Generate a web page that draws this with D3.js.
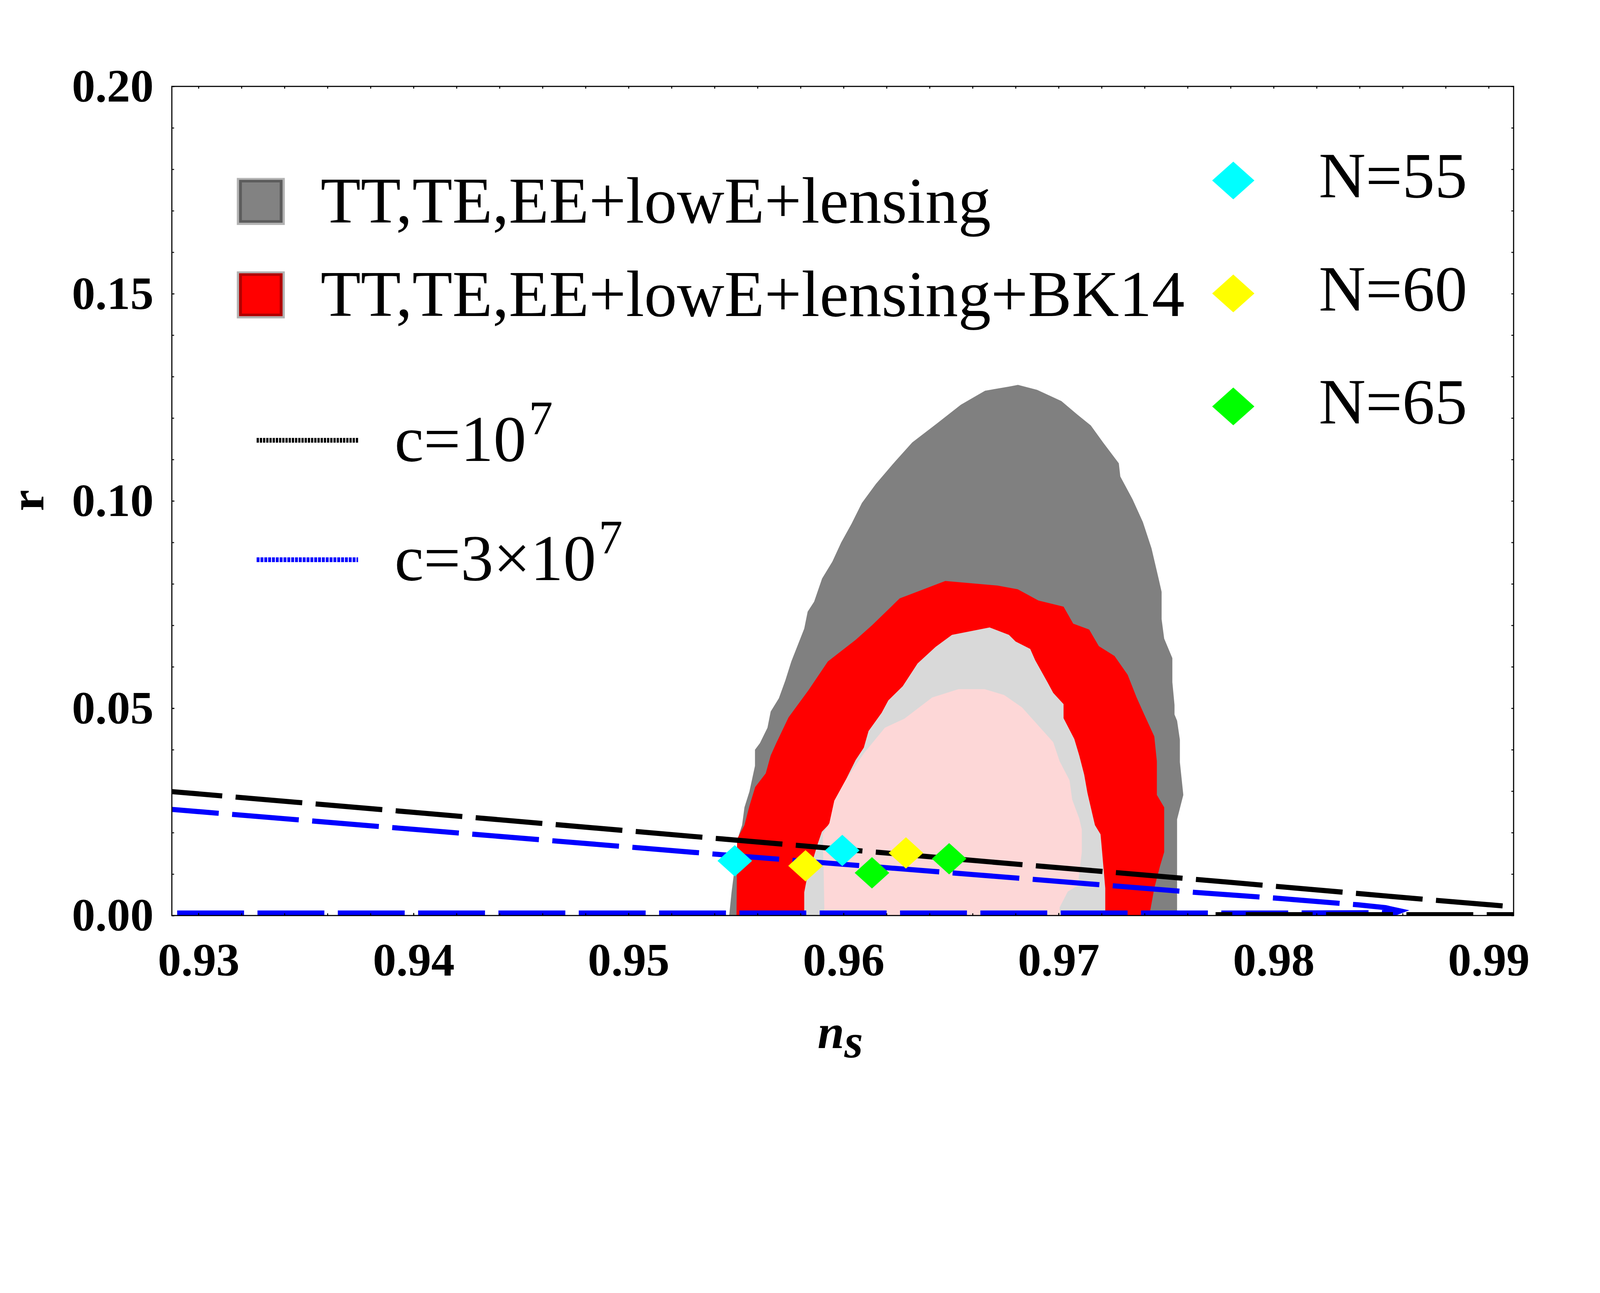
<!DOCTYPE html>
<html>
<head>
<meta charset="utf-8">
<script src="https://cdn.jsdelivr.net/npm/d3@7/dist/d3.min.js"></script>
<style>
  html, body { margin: 0; padding: 0; background: #fff; overflow: hidden; }
  svg { display: block; width: 100vw; height: 100vh; }
  text { font-family: "Liberation Serif", "Times New Roman", serif; }
</style>
</head>
<body>
<svg id="chart"></svg>
<script>
const width = 5000;
const height = 3310;
const margin = { left: 537, right: 270, top: 270, bottom: 449 };

// axis ranges and tick labels
const nsRange = [0.92876, 0.99116];
const rRange = [0, 0.2];
const xTicks = [0.93, 0.94, 0.95, 0.96, 0.97, 0.98, 0.99];
const yTicks = [0, 0.05, 0.10, 0.15, 0.20];

// contours [ns, r]
const planck95 = [[0.95468,0],[0.95479,0.0056],[0.95513,0.0194],[0.95528,0.0218],[0.95539,0.0261],[0.95562,0.0299],[0.95588,0.0361],[0.95588,0.0400],[0.95611,0.0416],[0.95646,0.0453],[0.95661,0.0492],[0.95699,0.0524],[0.95729,0.0567],[0.95757,0.0613],[0.95817,0.0692],[0.95833,0.0733],[0.95863,0.0757],[0.95900,0.0813],[0.95948,0.0854],[0.95989,0.0900],[0.96037,0.0945],[0.96085,0.0995],[0.96150,0.1041],[0.96239,0.1095],[0.96319,0.1141],[0.96432,0.1186],[0.96545,0.1232],[0.96658,0.1266],[0.96771,0.1276],[0.96811,0.1280],[0.96900,0.1268],[0.97013,0.1241],[0.97086,0.1209],[0.97150,0.1182],[0.97207,0.1141],[0.97280,0.1091],[0.97287,0.1059],[0.97344,0.1004],[0.97392,0.0949],[0.97432,0.0886],[0.97465,0.0813],[0.97479,0.0781],[0.97479,0.0715],[0.97491,0.0668],[0.97529,0.0621],[0.97529,0.0563],[0.97539,0.0508],[0.97539,0.0485],[0.97551,0.0470],[0.97564,0.0424],[0.97564,0.0370],[0.97580,0.0291],[0.97551,0.0232],[0.97551,0]];
const bk95 = [[0.95502,0],[0.95505,0.0185],[0.95539,0.0218],[0.95562,0.0264],[0.95589,0.0310],[0.95638,0.0343],[0.95661,0.0386],[0.95687,0.0416],[0.95744,0.0478],[0.95836,0.0543],[0.95927,0.0613],[0.96056,0.0665],[0.96132,0.0700],[0.96261,0.0765],[0.96473,0.0807],[0.96716,0.0796],[0.96810,0.0787],[0.96906,0.0760],[0.97023,0.0745],[0.97068,0.0704],[0.97142,0.0690],[0.97187,0.0650],[0.97260,0.0626],[0.97321,0.0581],[0.97362,0.0527],[0.97392,0.0492],[0.97445,0.0432],[0.97457,0.0372],[0.97457,0.0291],[0.97491,0.0261],[0.97491,0.0153],[0.97472,0.0120],[0.97445,0.0066],[0.97422,0]];
const planck68 = [[0.95817,0],[0.95817,0.0056],[0.95827,0.0083],[0.95881,0.0175],[0.95899,0.0202],[0.95934,0.0221],[0.95957,0.0277],[0.96010,0.0327],[0.96056,0.0375],[0.96094,0.0405],[0.96116,0.0445],[0.96177,0.0489],[0.96208,0.0519],[0.96275,0.0553],[0.96344,0.0608],[0.96428,0.0648],[0.96504,0.0677],[0.96679,0.0695],[0.96769,0.0677],[0.96800,0.0661],[0.96868,0.0643],[0.96891,0.0616],[0.96949,0.0562],[0.96975,0.0537],[0.97023,0.0510],[0.97023,0.0476],[0.97073,0.0426],[0.97096,0.0386],[0.97119,0.0340],[0.97134,0.0296],[0.97169,0.0218],[0.97195,0.0196],[0.97202,0.0156],[0.97217,0.0066],[0.97217,0]];
const bk68 = [[0.95911,0],[0.95908,0.0091],[0.95903,0.0196],[0.95934,0.0223],[0.95957,0.0277],[0.96010,0.0327],[0.96094,0.0391],[0.96192,0.0453],[0.96283,0.0475],[0.96412,0.0526],[0.96534,0.0546],[0.96656,0.0546],[0.96747,0.0532],[0.96830,0.0502],[0.96975,0.0418],[0.97005,0.0372],[0.97051,0.0326],[0.97063,0.0280],[0.97096,0.0234],[0.97108,0.0207],[0.97108,0.0153],[0.97089,0.0072],[0.97043,0.0058],[0.97005,0.0020],[0.97005,0]];

// model curves
const curveC1 = [[0.92876,0.0299],[0.9400,0.0249],[0.9543,0.0185],[0.9660,0.0133],[0.9780,0.0080],[0.9877,0.0036],[0.9912,0.0021],[0.9935,0.0010],[0.9940,0.0003],[0.9912,0.0002],[0.9773,0.0002]];
const curveC3 = [[0.92876,0.0256],[0.9400,0.0208],[0.9543,0.0147],[0.9660,0.0099],[0.9763,0.0056],[0.9801,0.0042],[0.9839,0.0026],[0.9852,0.0019],[0.9859,0.0011],[0.9857,0.0007],[0.9800,0.0006],[0.92876,0.0006]];

// e-folds
const pointsN55 = [[0.95494,0.0132],[0.95994,0.0157]];
const pointsN60 = [[0.95823,0.0120],[0.96290,0.0151]];
const pointsN65 = [[0.96132,0.0103],[0.96491,0.0137]];

// keep the chart pinned to the top-left whatever the window shape
const svg = d3.select("#chart")
  .attr("viewBox", `0 0 ${width} ${height}`)
  .attr("preserveAspectRatio", "xMinYMin meet");

const x = d3.scaleLinear().domain(nsRange).range([margin.left, width - margin.right]);
const y = d3.scaleLinear().domain(rRange).range([height - margin.bottom, margin.top]);

const plotW = width - margin.left - margin.right;
const plotH = height - margin.top - margin.bottom;

svg.append("defs").append("clipPath").attr("id", "plot-clip")
  .append("rect")
  .attr("x", margin.left).attr("y", margin.top)
  .attr("width", plotW).attr("height", plotH);

const plot = svg.append("g").attr("clip-path", "url(#plot-clip)");

const line = d3.line().x((d) => x(d[0])).y((d) => y(d[1]));

// filled regions, outer to inner
const regions = [
  { data: planck95, color: "#808080" },
  { data: bk95, color: "#ff0000" },
  { data: planck68, color: "#d9d9d9" },
  { data: bk68, color: "#fdd7d7" },
];
plot.selectAll("path.region")
  .data(regions)
  .enter()
  .append("path")
  .attr("class", "region")
  .attr("d", (d) => line(d.data) + "Z")
  .attr("fill", (d) => d.color);

// dashed model curves
const curves = [
  { data: curveC3, color: "#0000ff", offset: 62 },
  { data: curveC1, color: "#000000", offset: 51 },
];
plot.selectAll("path.curve")
  .data(curves)
  .enter()
  .append("path")
  .attr("class", "curve")
  .attr("d", (d) => line(d.data))
  .attr("fill", "none")
  .attr("stroke", (d) => d.color)
  .attr("stroke-width", 16)
  .attr("stroke-dasharray", "209,42")
  .attr("stroke-dashoffset", (d) => d.offset);

// diamond helper
const diamond = (cx, cy, hw, hh) =>
  `M${cx},${cy - hh}L${cx + hw},${cy}L${cx},${cy + hh}L${cx - hw},${cy}Z`;

const markerSets = [
  { data: pointsN55, color: "#00ffff" },
  { data: pointsN60, color: "#ffff00" },
  { data: pointsN65, color: "#00ff00" },
];
markerSets.forEach((set) => {
  plot.selectAll(null)
    .data(set.data)
    .enter()
    .append("path")
    .attr("d", (d) => diamond(x(d[0]), y(d[1]), 54, 49))
    .attr("fill", set.color);
});

// frame
svg.append("rect")
  .attr("x", margin.left).attr("y", margin.top)
  .attr("width", plotW).attr("height", plotH)
  .attr("fill", "none").attr("stroke", "#000").attr("stroke-width", 3.5);

// ticks
const xMinor = d3.range(0.93, 0.9911, 0.002);
const yMinor = d3.range(0, 0.2001, 0.01);

const styleAxis = (g) => {
  g.select(".domain").remove();
  g.selectAll(".tick line").attr("stroke", "#000").attr("stroke-width", 3);
  g.selectAll("text")
    .attr("fill", "#000")
    .style("font-size", "146px")
    .style("font-weight", "bold");
};

svg.append("g")
  .attr("transform", `translate(0,${height - margin.bottom})`)
  .call(d3.axisBottom(x).tickValues(xTicks).tickFormat(d3.format(".2f"))
    .tickSizeInner(-8).tickSizeOuter(0).tickPadding(84))
  .call(styleAxis);
svg.append("g")
  .attr("transform", `translate(0,${height - margin.bottom})`)
  .call(d3.axisBottom(x).tickValues(xMinor).tickFormat("").tickSize(-7))
  .call(styleAxis);
svg.append("g")
  .attr("transform", `translate(0,${margin.top})`)
  .call(d3.axisTop(x).tickValues(xMinor).tickFormat("").tickSize(-7))
  .call(styleAxis);

svg.append("g")
  .attr("transform", `translate(${margin.left},0)`)
  .call(d3.axisLeft(y).tickValues(yTicks).tickFormat(d3.format(".2f"))
    .tickSizeInner(-8).tickSizeOuter(0).tickPadding(57))
  .call(styleAxis);
svg.append("g")
  .attr("transform", `translate(${margin.left},0)`)
  .call(d3.axisLeft(y).tickValues(yMinor).tickFormat("").tickSize(-7))
  .call(styleAxis);
svg.append("g")
  .attr("transform", `translate(${width - margin.right},0)`)
  .call(d3.axisRight(y).tickValues(yMinor).tickFormat("").tickSize(-7))
  .call(styleAxis);

// axis titles
svg.append("text")
  .attr("transform", "translate(135,1564) rotate(-90)")
  .attr("text-anchor", "middle")
  .style("font-size", "150px")
  .style("font-weight", "bold")
  .text("r");

const xLabel = svg.append("text")
  .attr("x", 2555).attr("y", 3275)
  .style("font-size", "150px")
  .style("font-weight", "bold")
  .style("font-style", "italic");
xLabel.append("tspan").text("n");
xLabel.append("tspan").attr("dy", 30).text("s");

// legend: contours
const swatches = [
  { y: 556, label: "TT,TE,EE+lowE+lensing", edge: "#5c5c5c", fill: "#828282" },
  { y: 848, label: "TT,TE,EE+lowE+lensing+BK14", edge: "#b00000", fill: "#ff0000" },
];
swatches.forEach((s) => {
  svg.append("rect").attr("x", 740).attr("y", s.y).attr("width", 150).attr("height", 147).attr("fill", "#b3b3b3");
  svg.append("rect").attr("x", 747).attr("y", s.y + 6).attr("width", 136).attr("height", 134).attr("fill", s.edge);
  svg.append("rect").attr("x", 756).attr("y", s.y + 14).attr("width", 118).attr("height", 118).attr("fill", s.fill);
  svg.append("text")
    .attr("x", 1002).attr("y", s.y + 140)
    .style("font-size", "205px")
    .text(s.label);
});

// legend: curves
const curveKeys = [
  { y: 1376, color: "#000", dash: "7,3", base: "c=10", sup: "7" },
  { y: 1749, color: "#0000ff", dash: "9,3", base: "c=3\u00d710", sup: "7" },
];
curveKeys.forEach((k) => {
  svg.append("line")
    .attr("x1", 802).attr("x2", 1119).attr("y1", k.y).attr("y2", k.y)
    .attr("stroke", k.color).attr("stroke-width", 15)
    .attr("stroke-dasharray", k.dash);
  const t = svg.append("text")
    .attr("x", 1233).attr("y", k.y + 64)
    .style("font-size", "205px");
  t.append("tspan").text(k.base);
  t.append("tspan").attr("dx", 8).attr("dy", -84).style("font-size", "150px").text(k.sup);
});

// legend: e-folds
const nKeys = [
  { y: 564, color: "#00ffff", label: "N=55" },
  { y: 917, color: "#ffff00", label: "N=60" },
  { y: 1270, color: "#00ff00", label: "N=65" },
];
nKeys.forEach((k) => {
  svg.append("path").attr("d", diamond(3854, k.y, 66, 59)).attr("fill", k.color);
  svg.append("text")
    .attr("x", 4121).attr("y", k.y + 53)
    .style("font-size", "203px")
    .text(k.label);
});
</script>
</body>
</html>
